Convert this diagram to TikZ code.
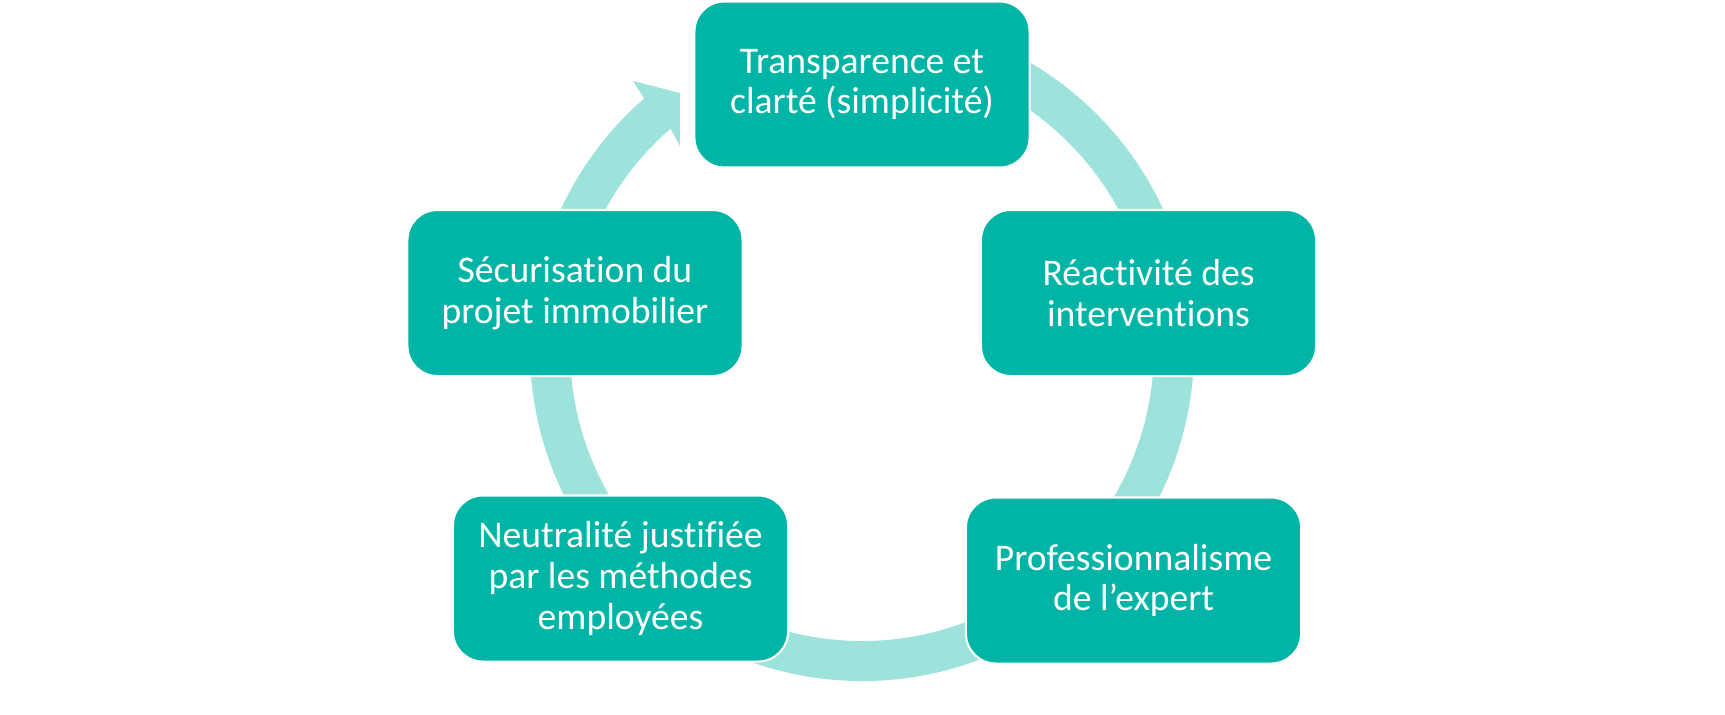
\documentclass[tikz,border=0pt]{standalone}
\usepackage{fontspec}
\setmainfont{Carlito}[Ligatures=NoCommon]
\usetikzlibrary{calc}
\definecolor{boxteal}{RGB}{0,181,166}
\definecolor{ringteal}{RGB}{157,226,219}

\begin{document}
\begin{tikzpicture}[x=0.01cm, y=0.01cm,
	every node/.style={font=\fontsize{10.7pt}{11.6pt}\selectfont},
	stage/.style={fill=boxteal, draw=white, line width=0.6pt, rounded corners=0.3cm,
		minimum width=3.35cm, minimum height=1.66cm, align=center, text=white, inner sep=2pt}]
	\useasboundingbox (0,0) rectangle (1725,714);
	
	% Anneau avec pointe de fleche (sous les cases)
	\coordinate (C) at (862,365);
	\fill[ringteal] ($(C)+(80:332)$) arc[start angle=80, end angle=-229, radius=332]
		-- (633,633) -- (680,621) -- (680,568)
		-- ($(C)+(131:292)$) arc[start angle=-229, end angle=80, radius=292] -- cycle;
	
	% Cases du cycle
	\node[stage] (transparence) at (862,629.5) {Transparence et\\clarté (simplicité)};
	\node[stage] (reactivite) at (1148.5,421) {Réactivité des\\interventions};
	\node[stage] (professionnalisme) at (1133.5,133.5) {Professionnalisme\\de l’expert};
	\node[stage] (neutralite) at (620.5,135.5) {Neutralité justifiée\\par les méthodes\\employées};
	\node[stage] (securisation) at (575,421) {Sécurisation du\\projet immobilier};
\end{tikzpicture}
\end{document}
